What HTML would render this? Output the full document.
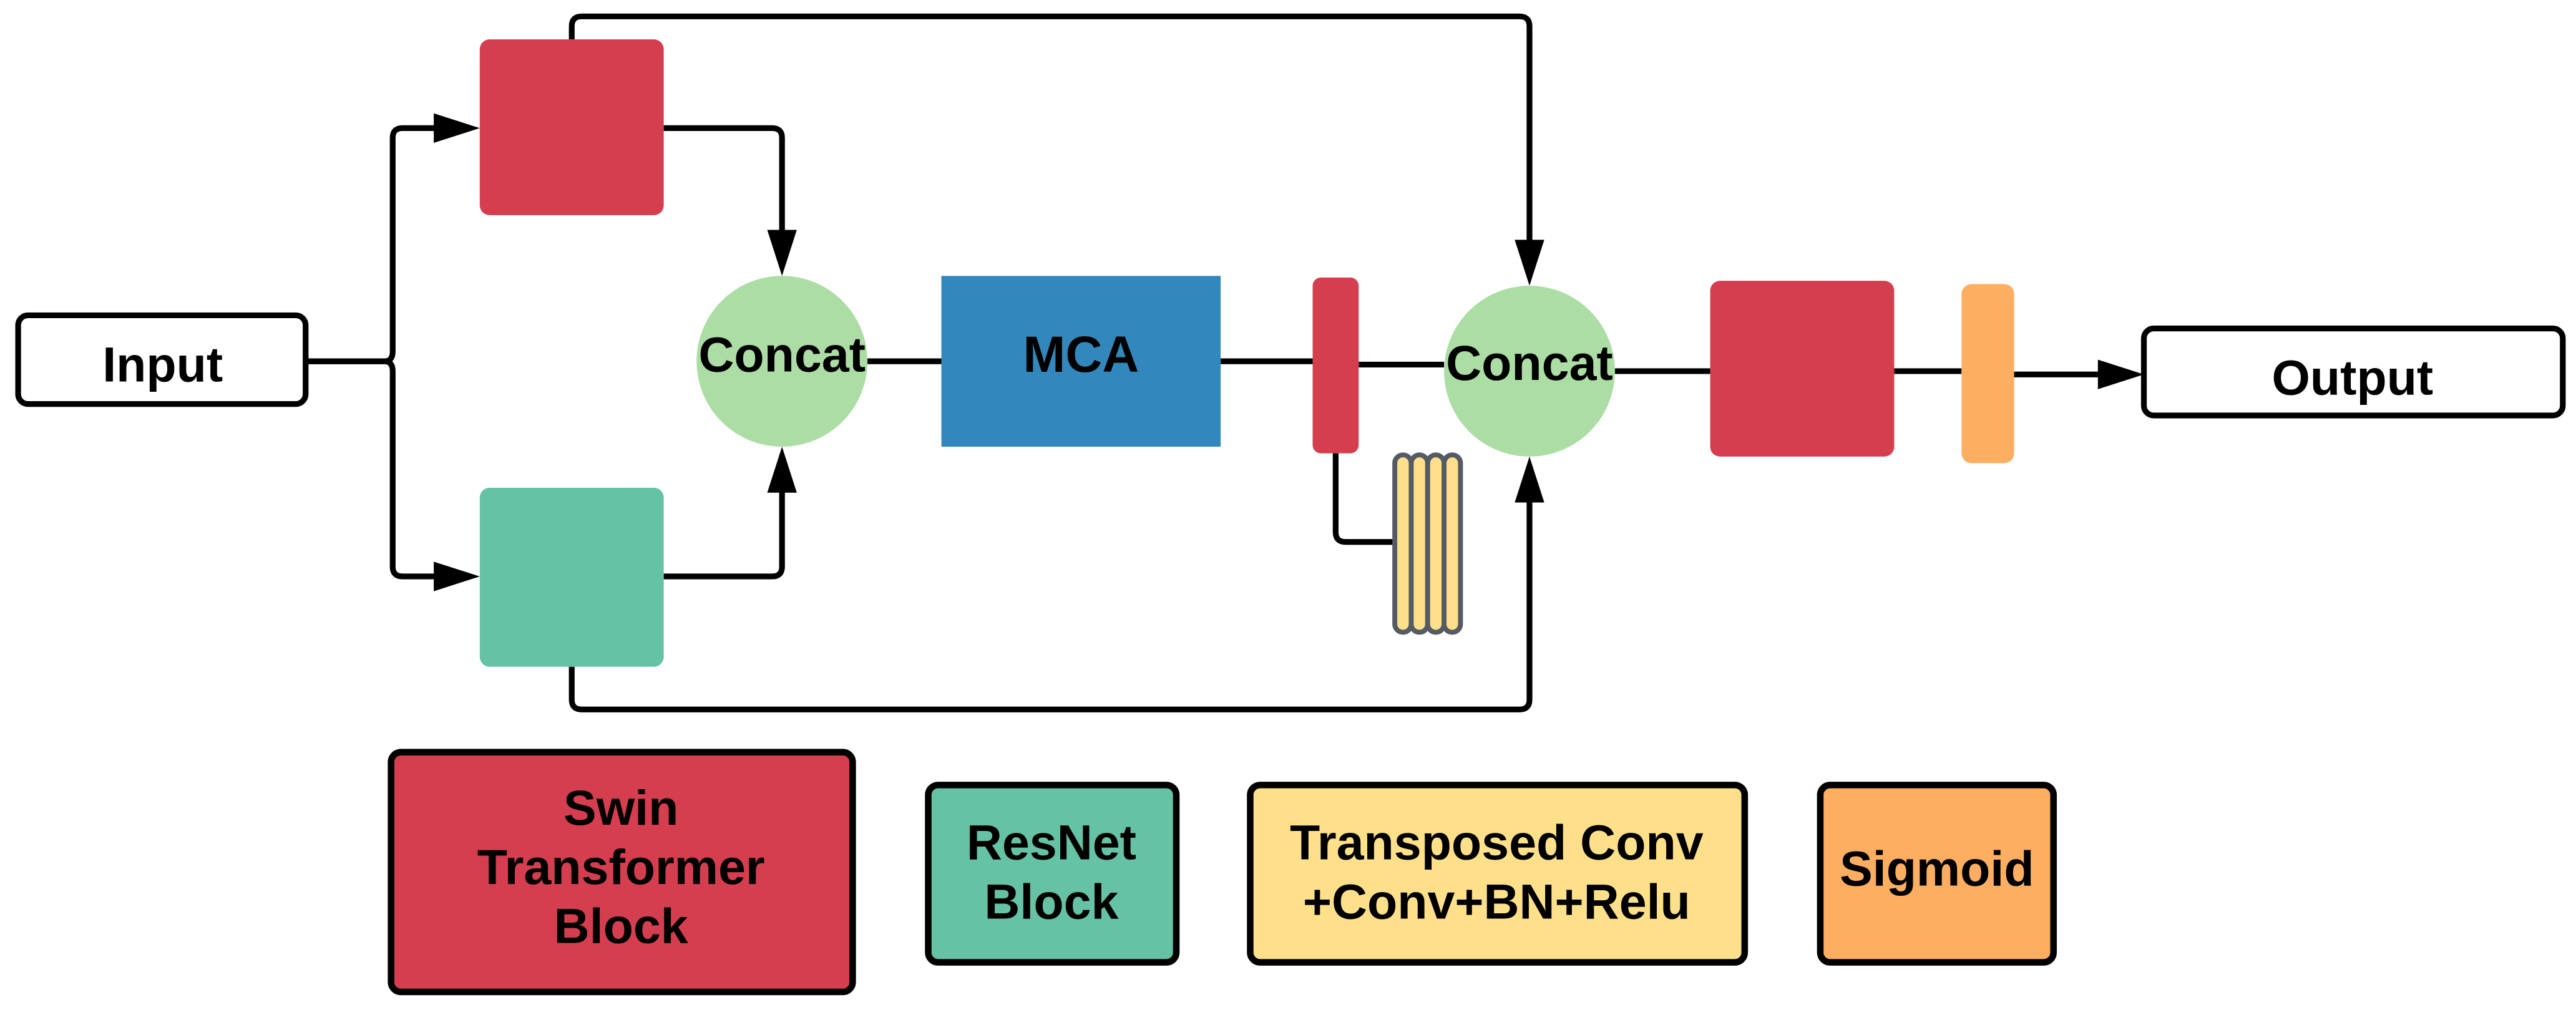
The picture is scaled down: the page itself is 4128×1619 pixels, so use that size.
<!DOCTYPE html>
<html><head><meta charset="utf-8"><style>
html,body{margin:0;padding:0;background:#fff;}
svg{display:block;}
text{font-family:"Liberation Sans",sans-serif;font-weight:bold;fill:#000;text-anchor:middle;dominant-baseline:central;}
</style></head><body>
<svg width="4128" height="1619" viewBox="0 0 1568 615" xmlns="http://www.w3.org/2000/svg">
<g fill="none" stroke="#000" stroke-width="3.5" stroke-linejoin="round">
<path d="M186 220 H234 Q239 220 239 214 V84 Q239 78 245 78 H268"/>
<path d="M186 220 H234 Q239 220 239 226 V345 Q239 351 245 351 H268"/>
<path d="M404 78 H470 Q476 78 476 84 V146"/>
<path d="M404 351 H470 Q476 351 476 345 V296"/>
<path d="M528 220 H573"/>
<path d="M743 220 H799"/>
<path d="M827 222 H879"/>
<path d="M348 24 V16 Q348 10 354 10 H925 Q931 10 931 16 V152"/>
<path d="M348 406 V426 Q348 432 354 432 H925 Q931 432 931 426 V302"/>
<path d="M813 276 V324 Q813 330 819 330 H848"/>
<path d="M983 226 H1041"/>
<path d="M1153 226 H1194"/>
<path d="M1226 228 H1282"/>
</g>
<g fill="#000">
<polygon points="292,78 264,69 264,87"/>
<polygon points="292,351 264,342 264,360"/>
<polygon points="476,168 467,140 485,140"/>
<polygon points="476,272 467,300 485,300"/>
<polygon points="931,174 922,146 940,146"/>
<polygon points="931,278 922,306 940,306"/>
<polygon points="1305,228 1277,219 1277,237"/>
</g>
<rect x="11" y="192" width="175" height="54" rx="6" fill="#fff" stroke="#000" stroke-width="3.5"/>
<text x="99" y="222" font-size="30">Input</text>
<rect x="292" y="24" width="112" height="107" rx="6" fill="#d53e4f"/>
<rect x="292" y="297" width="112" height="109" rx="6" fill="#66c2a5"/>
<ellipse cx="476" cy="220" rx="52" ry="52" fill="#abdda4"/>
<text x="476" y="216" font-size="30">Concat</text>
<rect x="573" y="168" width="170" height="104" fill="#3288bd"/>
<text x="658" y="216" font-size="31">MCA</text>
<rect x="799" y="169" width="28" height="107" rx="5" fill="#d53e4f"/>
<g fill="#fee08b" stroke="#545b64" stroke-width="3">
<rect x="849" y="277" width="10" height="108" rx="5"/>
<rect x="859" y="277" width="10" height="108" rx="5"/>
<rect x="869" y="277" width="10" height="108" rx="5"/>
<rect x="879" y="277" width="10" height="108" rx="5"/>
</g>
<ellipse cx="931" cy="226" rx="52" ry="52" fill="#abdda4"/>
<text x="931" y="221" font-size="30">Concat</text>
<rect x="1041" y="171" width="112" height="107" rx="6" fill="#d53e4f"/>
<rect x="1194" y="173" width="32" height="109" rx="6" fill="#fdae61"/>
<rect x="1305" y="200" width="255" height="53" rx="6" fill="#fff" stroke="#000" stroke-width="3.5"/>
<text x="1432" y="230" font-size="30">Output</text>
<g stroke="#000" stroke-width="4">
<rect x="238" y="458" width="281" height="146" rx="6" fill="#d53e4f"/>
<rect x="565" y="478" width="151" height="108" rx="6" fill="#66c2a5"/>
<rect x="761" y="478" width="301" height="108" rx="6" fill="#fee08b"/>
<rect x="1108" y="478" width="142" height="108" rx="6" fill="#fdae61"/>
</g>
<text x="378" y="492" font-size="30">Swin</text>
<text x="378" y="528" font-size="30">Transformer</text>
<text x="378" y="564" font-size="30">Block</text>
<text x="640" y="513" font-size="30">ResNet</text>
<text x="640" y="549" font-size="30">Block</text>
<text x="911" y="513" font-size="30">Transposed Conv</text>
<text x="911" y="549" font-size="30">+Conv+BN+Relu</text>
<text x="1179" y="529" font-size="30">Sigmoid</text>
</svg>
</body></html>
